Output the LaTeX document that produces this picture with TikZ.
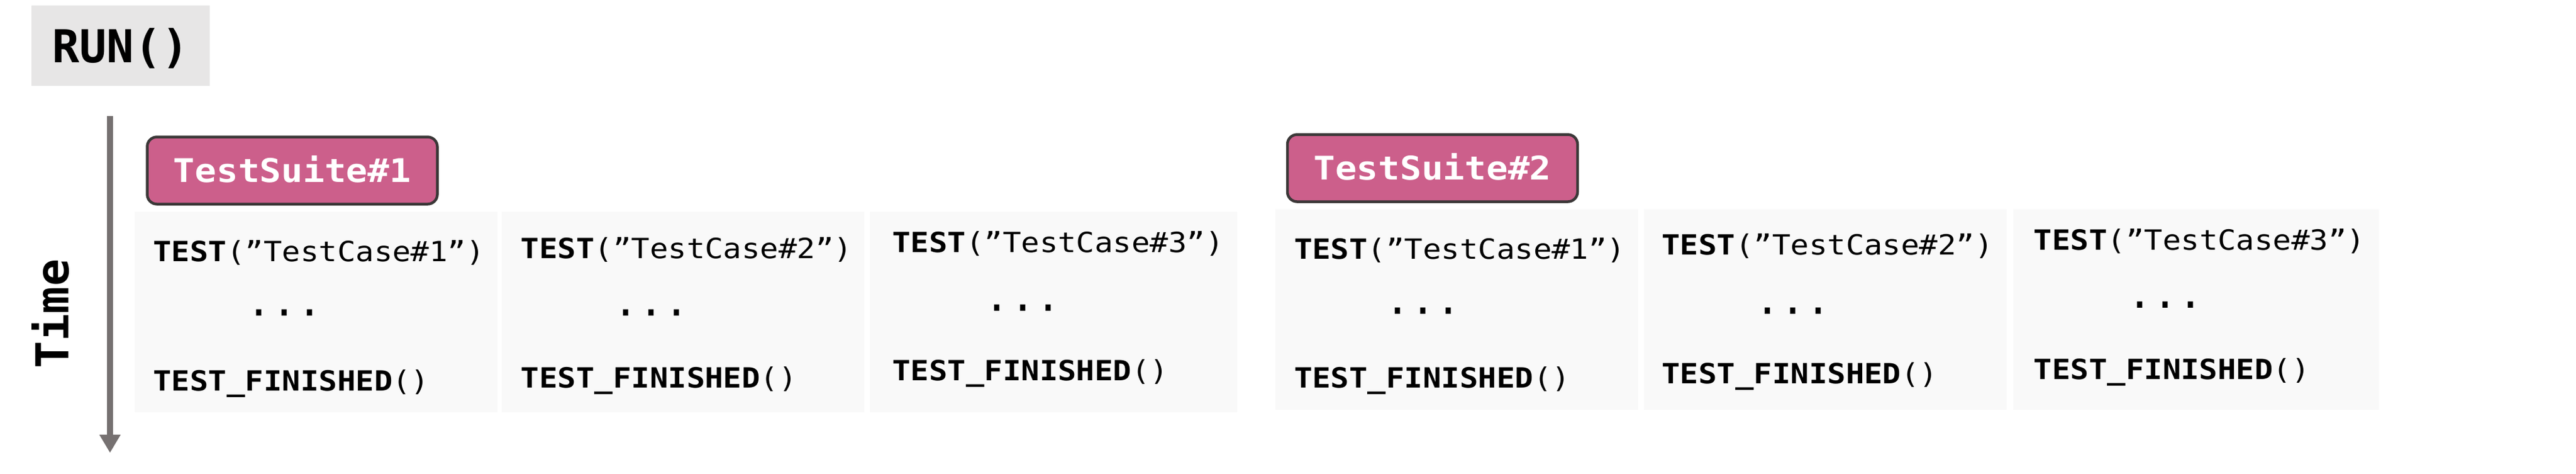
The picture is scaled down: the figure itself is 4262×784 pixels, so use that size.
\documentclass[tikz,border=0pt]{standalone}
\usepackage{fontspec}
\usetikzlibrary{positioning,calc,arrows.meta}
\newfontfamily\codefont[FakeStretch=1.1]{DejaVu Sans Mono}
\newfontfamily\monofont{DejaVu Sans Mono}
\definecolor{runbg}{HTML}{E7E6E6}
\definecolor{casebg}{HTML}{F9F9F9}
\definecolor{suitefill}{HTML}{CC5F8B}
\definecolor{suiteline}{HTML}{3B3838}
\definecolor{arrowgray}{HTML}{767171}
\tikzset{case box/.style={fill=casebg,inner sep=0pt,minimum width=600pt,minimum height=332pt},
suite box/.style={draw=suiteline,line width=4.5pt,fill=suitefill,rounded corners=16pt,minimum width=480pt,minimum height=111pt,text=white,font=\codefont\bfseries\fontsize{54}{54}\selectfont,text height=39pt,text depth=0pt,inner sep=0pt},
call/.style={inner sep=0pt,anchor=base west,font=\codefont\fontsize{46}{46}\selectfont},
gap/.style={inner sep=0pt,anchor=center,font=\monofont\fontsize{70}{70}\selectfont},
time arrow/.style={draw=arrowgray,line width=10pt,-{Triangle[width=33pt,length=30pt]}}}

\begin{document}
\begin{tikzpicture}[x=1pt,y=-1pt]
\useasboundingbox (0,0) rectangle (4262,784);
\node[fill=runbg,minimum width=295pt,minimum height=133pt,font=\monofont\bfseries\fontsize{75}{75}\selectfont,text height=55pt,text depth=0pt] (run) at (199.5,75.5) {RUN()};
% time axis
\coordinate (t0) at (182,192);
\coordinate (t1) at (182,749);
\draw[time arrow] (t0) -- (t1);
\node[rotate=90,inner sep=0pt,font=\monofont\bfseries\fontsize{75}{75}\selectfont] (time) at (83.5,519) {Time};
% first suite
\node[case box] (s1c1) at (522.5,516) {};
\node[case box,right=7pt of s1c1] (s1c2) {};
\node[case box,right=9pt of s1c2,minimum width=608pt] (s1c3) {};
\node[suite box,above right=10pt and 19pt of s1c1.north west] (ts1) {TestSuite\#1};
\node[call] (s1c1a) at ($(s1c1.north west)+(31,83)$) {\textbf{TEST}(”TestCase\#1”)};
\node[gap] (s1c1b) at ($(s1c1.north west)+(248,167)$) {...};
\node[call] (s1c1c) at ($(s1c1.north west)+(31,297)$) {\textbf{TEST\_FINISHED}()};
\node[call] (s1c2a) at ($(s1c2.north west)+(32,78)$) {\textbf{TEST}(”TestCase\#2”)};
\node[gap] (s1c2b) at ($(s1c2.north west)+(248,167)$) {...};
\node[call] (s1c2c) at ($(s1c2.north west)+(32,292)$) {\textbf{TEST\_FINISHED}()};
\node[call] (s1c3a) at ($(s1c3.north west)+(37,68)$) {\textbf{TEST}(”TestCase\#3”)};
\node[gap] (s1c3b) at ($(s1c3.north west)+(253,159)$) {...};
\node[call] (s1c3c) at ($(s1c3.north west)+(37,280)$) {\textbf{TEST\_FINISHED}()};
% second suite
\node[case box] (s2c1) at (2410,512) {};
\node[case box,right=10pt of s2c1] (s2c2) {};
\node[case box,right=10pt of s2c2,minimum width=605pt] (s2c3) {};
\node[suite box,above right=10pt and 18pt of s2c1.north west] (ts2) {TestSuite\#2};
\node[call] (s2c1a) at ($(s2c1.north west)+(31,83)$) {\textbf{TEST}(”TestCase\#1”)};
\node[gap] (s2c1b) at ($(s2c1.north west)+(245,168)$) {...};
\node[call] (s2c1c) at ($(s2c1.north west)+(31,296)$) {\textbf{TEST\_FINISHED}()};
\node[call] (s2c2a) at ($(s2c2.north west)+(29,76)$) {\textbf{TEST}(”TestCase\#2”)};
\node[gap] (s2c2b) at ($(s2c2.north west)+(246,168)$) {...};
\node[call] (s2c2c) at ($(s2c2.north west)+(29,289)$) {\textbf{TEST\_FINISHED}()};
\node[call] (s2c3a) at ($(s2c3.north west)+(34,68)$) {\textbf{TEST}(”TestCase\#3”)};
\node[gap] (s2c3b) at ($(s2c3.north west)+(252,158)$) {...};
\node[call] (s2c3c) at ($(s2c3.north west)+(34,282)$) {\textbf{TEST\_FINISHED}()};
\end{tikzpicture}
\end{document}
